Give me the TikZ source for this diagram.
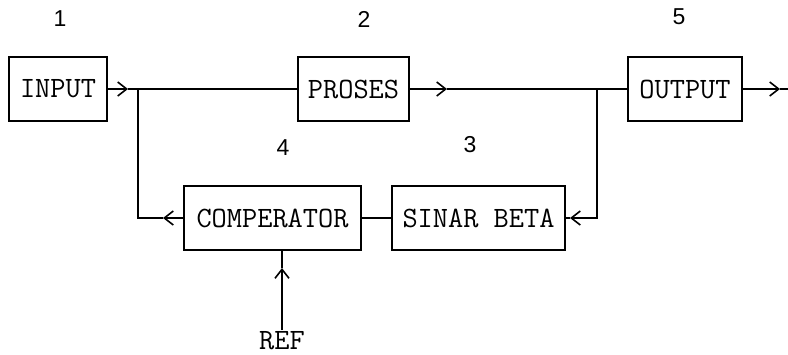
\documentclass[tikz,border=0pt]{standalone}
\usepackage{fontspec}
\newfontfamily\numfont{Liberation Sans}
\usetikzlibrary{arrows.meta}
\begin{document}
\begin{tikzpicture}[x=1pt,y=-1pt,
  every node/.style={font=\ttfamily\fontsize{29.5}{32}\selectfont, inner sep=0pt},
  blk/.style={draw, line width=1.6pt, minimum height=64pt},
  num/.style={font=\numfont\fontsize{23}{26}\selectfont},
  wire/.style={line width=1.6pt},
  arr/.style={wire, -{Straight Barb[length=9pt,width=14pt,line width=1.6pt]}}]
\useasboundingbox (0,0) rectangle (788,354);
% blocks
\node[blk, minimum width=98pt]  (in)  at (58,89)    {INPUT};
\node[blk, minimum width=111pt] (pr)  at (353.5,89) {PROSES};
\node[blk, minimum width=114pt] (out) at (685,89)   {OUTPUT};
\node[blk, minimum width=177pt] (cmp) at (272.5,218) {COMPERATOR};
\node[blk, minimum width=173pt] (sb)  at (478.5,218) {SINAR BETA};
\node[anchor=base] (ref) at (282,349) {REF};
% numbers
\node[num] (n1) at (60,19) {1};
\node[num] (n2) at (364,19) {2};
\node[num] (n5) at (679,17) {5};
\node[num] (n4) at (283,148) {4};
\node[num] (n3) at (470,145) {3};
% coordinates
\coordinate (t1) at (128,89);
\coordinate (j1) at (138,89);
\coordinate (t2) at (447,89);
\coordinate (j2) at (597,89);
\coordinate (t6) at (780,89);
\coordinate (e6) at (788,89);
\coordinate (t4) at (163,218);
\coordinate (c4) at (138,218);
\coordinate (t3) at (570,218);
\coordinate (t5) at (282,268);
\coordinate (b5) at (282,330);
% main line
\draw[arr] (in.east) -- (t1);
\draw[wire] (t1) -- (pr.west);
\draw[arr] (pr.east) -- (t2);
\draw[wire] (t2) -- (out.west);
\draw[arr] (out.east) -- (t6);
\draw[wire] (t6) -- (e6);
% feedback
\draw[arr] (j2) |- (t3);
\draw[wire] (t3) -- (sb.east);
\draw[wire] (sb.west) -- (cmp.east);
\draw[arr] (cmp.west) -- (t4);
\draw[wire] (t4) -- (c4) -- (j1);
% ref
\draw[arr] (b5) -- (t5);
\draw[wire] (t5) -- (t5 |- cmp.south);
\end{tikzpicture}
\end{document}
